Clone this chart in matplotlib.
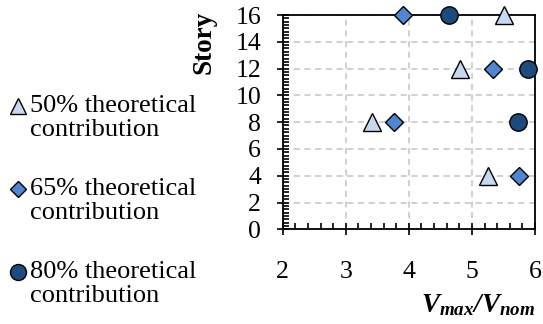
import matplotlib
matplotlib.use("Agg")
import matplotlib.pyplot as plt
from matplotlib.ticker import MultipleLocator
from matplotlib.lines import Line2D

plt.rcParams['font.family'] = ['Liberation Serif', 'DejaVu Serif']
plt.rcParams['mathtext.fontset'] = 'custom'
plt.rcParams['mathtext.it'] = 'Liberation Serif:italic:bold'
plt.rcParams['mathtext.rm'] = 'Liberation Serif:italic:bold'

# data
labels = ['50% theoretical\ncontribution', '65% theoretical\ncontribution', '80% theoretical\ncontribution']
x50 = [5.51, 4.81, 3.42, 5.26]
y50 = [16, 12, 8, 4]
x65 = [3.91, 5.34, 3.76, 5.74]
y65 = [16, 12, 8, 4]
x80 = [4.63, 5.89, 5.73]
y80 = [16, 12, 8]

styles = [
    dict(marker='^', ms=12.5, mfc='#C6D9F1'),
    dict(marker='D', ms=9, mfc='#4F86CF'),
    dict(marker='o', ms=12.5, mfc='#1F4A7E'),
]

W, H = 543, 324
fig = plt.figure(figsize=(W / 100, H / 100), dpi=100)
ax = fig.add_axes([282.7 / W, 1 - 229.3 / H, (535 - 282.7) / W, (229.3 - 15) / H])

for xs, ys, st in zip([x50, x65, x80], [y50, y65, y80], styles):
    ax.plot(xs, ys, ls='none', mec='black', mew=1.0, clip_on=False, zorder=5, **st)

ax.set_xlim(2, 6)
ax.set_ylim(0, 16)
ax.xaxis.set_major_locator(MultipleLocator(1))
ax.xaxis.set_minor_locator(MultipleLocator(0.2))
ax.yaxis.set_major_locator(MultipleLocator(2))
ax.yaxis.set_minor_locator(MultipleLocator(0.25))
ax.tick_params(which='major', direction='inout', length=9, width=1.2, labelsize=18.5)
ax.tick_params(which='minor', direction='in', length=4.5, width=1.2)
ax.tick_params(axis='x', which='major', pad=18)
ax.tick_params(axis='y', which='major', pad=11)
ax.grid(True, which='major', color='#C4C4C4', ls=(0, (4, 3)), lw=1.1)
for s in ax.spines.values():
    s.set_linewidth(1.3)

fig.text(204 / W, 1 - 42 / H, 'Story', rotation=90, ha='center', va='center',
         fontsize=19.5, fontweight='bold')
fig.text(535 / W, 1 - 305 / H, r'$V_{max}/V_{nom}$', ha='right', va='center', fontsize=19.5)

# legend on the left, marker next to first line of each label
leg_y = [106, 189, 272]
for lab, st, yy in zip(labels, styles, leg_y):
    fig.add_artist(Line2D([18 / W], [1 - yy / H], transform=fig.transFigure, ls='none',
                          mec='black', mew=1.0, **{**st, 'ms': st['ms'] * 0.92}))
    fig.text(30 / W, 1 - (yy - 11) / H, lab, ha='left', va='top', fontsize=19,
             linespacing=1.1)

fig.savefig('out.png', dpi=100)
